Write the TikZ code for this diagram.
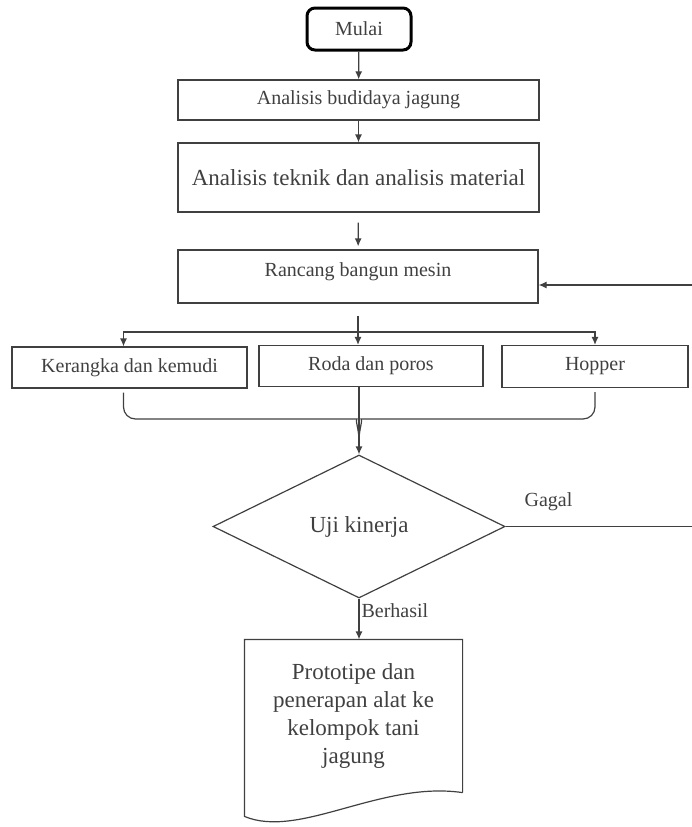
\documentclass[tikz,border=0pt]{standalone}
\usepackage{fontspec}
\setmainfont{Liberation Serif}
\usetikzlibrary{shapes.geometric, arrows.meta}

\begin{document}
\begin{tikzpicture}[x=0.5pt, y=-0.5pt, color=black!75, line width=0.6pt, >={Latex[length=4pt,width=3.5pt]},
	main/.style = {draw, rectangle, inner sep=0pt, font=\fontsize{10}{12}\selectfont},
	start/.style = {draw=black, rectangle, rounded corners=4pt, line width=1.5pt, inner sep=0pt, font=\fontsize{10}{12}\selectfont},
	test/.style = {draw, diamond, aspect=2, inner sep=0pt, minimum width=146pt, minimum height=71.5pt, font=\fontsize{11.5}{14}\selectfont}]
	\useasboundingbox (0,0) rectangle (692,827);
	% kotak proses
	\node[start, minimum width=52pt, minimum height=21pt] (mulai) at (359,29) {Mulai};
	\node[main, minimum width=180.5pt, minimum height=20pt] (budidaya) at (358.5,100) {Analisis budidaya jagung};
	\node[main, minimum width=180.5pt, minimum height=34.5pt, font=\fontsize{11.5}{14}\selectfont] (teknik) at (358.5,177.5) {Analisis teknik dan analisis material};
	\node[main, minimum width=180pt, minimum height=26.5pt, text height=7pt, text depth=7pt] (rancang) at (358,276.5) {Rancang bangun mesin};
	\node[main, minimum width=117.5pt, minimum height=20.5pt] (kerangka) at (129.5,367.5) {Kerangka dan kemudi};
	\node[main, minimum width=112pt, minimum height=20.5pt] (roda) at (371,366) {Roda dan poros};
	\node[main, minimum width=93pt, minimum height=21pt] (hopper) at (595,366.5) {Hopper};
	\node[test] (uji) at (359,526.5) {Uji kinerja};
	\node[minimum width=108.5pt, minimum height=76pt, inner sep=0pt, align=center, font=\fontsize{11.5}{14}\selectfont] (prototipe) at (353.5,716) {Prototipe dan\\penerapan alat ke\\kelompok tani\\jagung};
	\draw (prototipe.south east) -- (prototipe.north east) -- (prototipe.north west) -- ++(0,177) .. controls +(55,23) and +(-82,-12) .. (prototipe.south east);
	% titik bantu
	\coordinate (pecah) at (358,332);
	\coordinate (gabung) at (359,440);
	\coordinate (kiri) at (345,419);
	\coordinate (kanan) at (373,419);
	\coordinate (balik) at (692,285);
	\coordinate (gagal) at (692,526.5);
	% alur
	\draw[->] (mulai) -- (budidaya);
	\draw[->] (budidaya) -- (teknik);
	\draw[->, shorten <=5pt, shorten >=1.5pt] (teknik) -- (rancang);
	\draw[->] (balik) -- (balik -| rancang.east);
	\draw[->, shorten <=6pt] (rancang) -- (rancang.south |- roda.north);
	\draw[->] (pecah) -| ([xshift=-3pt]kerangka.north);
	\draw[->] (pecah) -| (hopper.north);
	\draw[rounded corners=6pt, shorten <=2pt] ([xshift=-3pt]kerangka.south) |- (kiri) to[out=0,in=90] (gabung);
	\draw[rounded corners=6pt, shorten <=2pt] (hopper.south) |- (kanan) to[out=180,in=90] (gabung);
	\draw[->] (uji.north |- roda.south) -- (uji.north);
	\draw (uji.east) -- node[pos=0.23, above=4pt, font=\fontsize{10}{12}\selectfont] {Gagal} (gagal);
	\draw[->] (uji.south) -- node[pos=0.3, right, inner sep=1pt, font=\fontsize{10}{12}\selectfont] {Berhasil} (uji.south |- prototipe.north);
\end{tikzpicture}
\end{document}
